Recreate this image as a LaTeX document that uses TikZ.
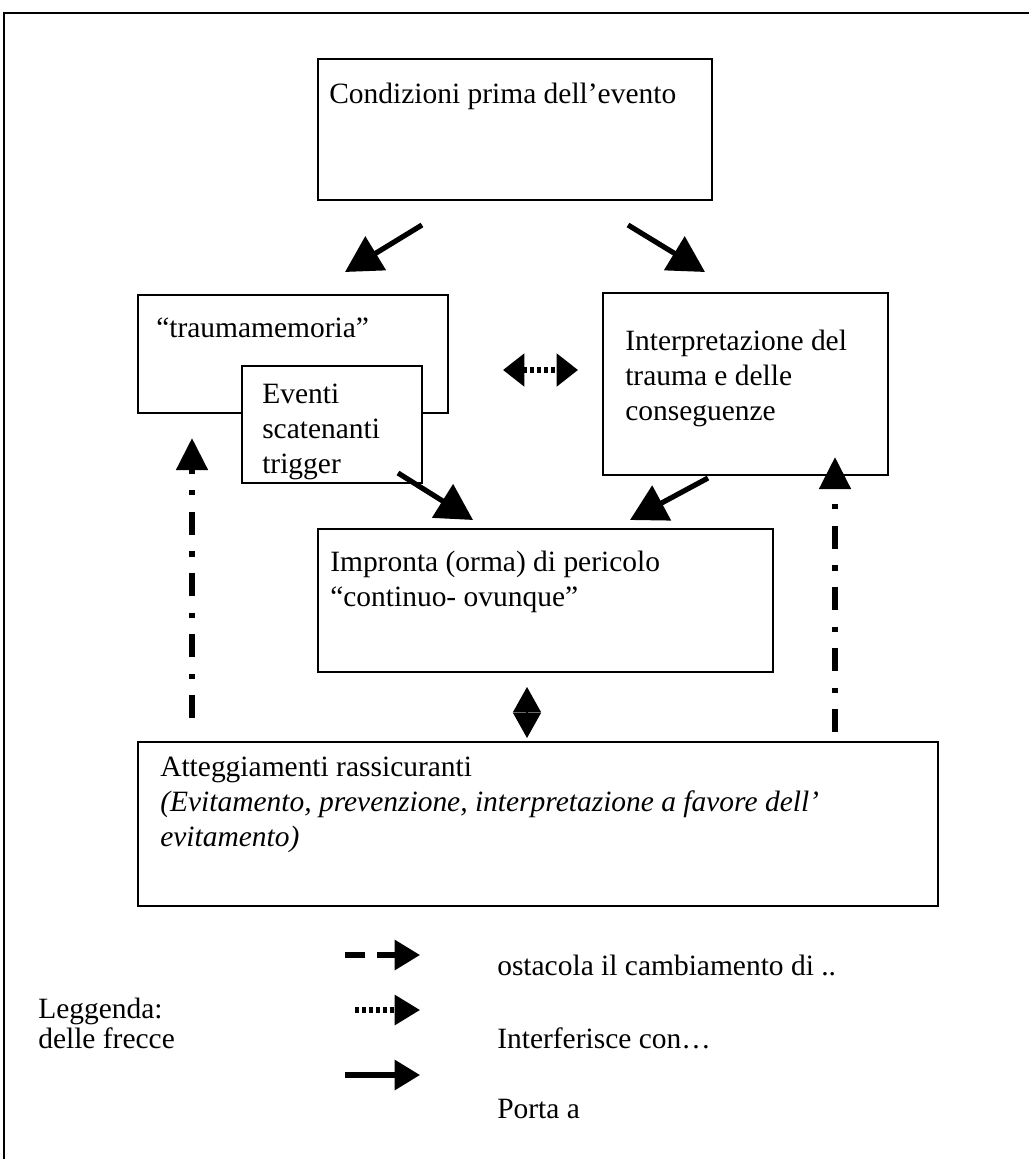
\documentclass[tikz,border=0pt]{standalone}
\usepackage{fontspec}
\setmainfont{Liberation Serif}
\usetikzlibrary{arrows.meta,fit}
\begin{document}
\begin{tikzpicture}[x=0.75pt,y=-0.75pt,
  box/.style={draw,line width=1.1pt,fill=white,inner sep=0pt},
  lbl/.style={anchor=base west,inner sep=0pt,font=\fontsize{22.1}{26.25}\selectfont},
  ilbl/.style={lbl,font=\fontsize{22.1}{26.25}\selectfont\itshape},
  solidarr/.style={line width=3.9pt,-{Triangle[length=27pt,width=29pt]}},
  dotarr/.style={line width=3.8pt,dash pattern=on 3pt off 2.2pt,{Triangle[length=16pt,width=24pt]}-{Triangle[length=16pt,width=24pt]}},
  dasharr/.style={line width=4.3pt,dash pattern=on 17pt off 12.5pt on 3.8pt off 12.5pt,-{Triangle[length=24pt,width=23pt]}},
  diamarr/.style={line width=1pt,{Triangle[length=19pt,width=21pt]}-{Triangle[length=19pt,width=21pt]}},
  legdash/.style={line width=3.8pt,dash pattern=on 15pt off 9pt,-{Triangle[length=19pt,width=22pt]}},
  legdot/.style={line width=3.8pt,dash pattern=on 3pt off 2.2pt,-{Triangle[length=19pt,width=22pt]}},
  legsolid/.style={line width=3.8pt,-{Triangle[length=19pt,width=22pt]}}
]
\useasboundingbox (0,0) rectangle (1029,1159);
% outer frame
\draw[line width=1.6pt] (4,1159) -- (4,13) -- (1029,13);

% box corners
\coordinate (c1a) at (318,59);  \coordinate (c1b) at (712,200);
\coordinate (c2a) at (138,295); \coordinate (c2b) at (448,413);
\coordinate (c3a) at (242,366); \coordinate (c3b) at (422,483);
\coordinate (c4a) at (603,293); \coordinate (c4b) at (888,475);
\coordinate (c5a) at (318,529); \coordinate (c5b) at (773,672);
\coordinate (c6a) at (138,742); \coordinate (c6b) at (938,906);

\node[box,fit=(c1a)(c1b)] (cond) {};
\node[box,fit=(c2a)(c2b)] (trauma) {};
\node[box,fit=(c3a)(c3b)] (eventi) {};
\node[box,fit=(c4a)(c4b)] (interp) {};
\node[box,fit=(c5a)(c5b)] (impronta) {};
\node[box,fit=(c6a)(c6b)] (atteg) {};

% texts
\node[lbl] (tcond) at (329,104) {Condizioni prima dell’evento};
\node[lbl] (ttrauma) at (156,337) {“traumamemoria”};
\node[lbl] (tev1) at (262,403) {Eventi};
\node[lbl] (tev2) at (262,438) {scatenanti};
\node[lbl] (tev3) at (262,473) {trigger};
\node[lbl] (tin1) at (625,350) {Interpretazione del};
\node[lbl] (tin2) at (625,385) {trauma e delle};
\node[lbl] (tin3) at (625,420) {conseguenze};
\node[lbl] (tim1) at (330,571) {Impronta (orma) di pericolo};
\node[lbl] (tim2) at (330,606) {“continuo- ovunque”};
\node[lbl] (tat1) at (160,776) {Atteggiamenti rassicuranti};
\node[ilbl] (tat2) at (160,811) {(Evitamento, prevenzione, interpretazione a favore dell’};
\node[ilbl] (tat3) at (160,846) {evitamento)};

% arrows
\coordinate (a1s) at (422,225); \coordinate (a1e) at (345,272);
\coordinate (a2s) at (628,225); \coordinate (a2e) at (705,272);
\coordinate (a3s) at (398,473); \coordinate (a3e) at (473,520);
\coordinate (a4s) at (708,478); \coordinate (a4e) at (630,520);
\draw[solidarr] (a1s) -- (a1e);
\draw[solidarr] (a2s) -- (a2e);
\draw[solidarr] (a3s) -- (a3e);
\draw[solidarr] (a4s) -- (a4e);

\coordinate (d1s) at (503,370); \coordinate (d1e) at (578,370);
\draw[dotarr] (d1s) -- (d1e);

\coordinate (m1s) at (527,687); \coordinate (m1e) at (527,738);
\draw[diamarr] (m1s) -- (m1e);

\coordinate (l1s) at (192,718); \coordinate (l1e) at (192,438);
\coordinate (r1s) at (835,732); \coordinate (r1e) at (835,457);
\draw[dasharr] (l1s) -- (l1e);
\draw[dasharr] (r1s) -- (r1e);

% legend
\coordinate (g1s) at (345,955); \coordinate (g1e) at (420,955);
\coordinate (g2s) at (355,1010); \coordinate (g2e) at (420,1010);
\coordinate (g3s) at (345,1075); \coordinate (g3e) at (420,1075);
\draw[legdash] (g1s) -- (g1e);
\draw[legdot] (g2s) -- (g2e);
\draw[legsolid] (g3s) -- (g3e);
\node[lbl] (lt1) at (497,975) {ostacola il cambiamento di ..};
\node[lbl] (lt2) at (497,1048) {Interferisce con…};
\node[lbl] (lt3) at (497,1118) {Porta a};
\node[lbl] (lg1) at (38,1018) {Leggenda:};
\node[lbl] (lg2) at (38,1048) {delle frecce};
\end{tikzpicture}
\end{document}
